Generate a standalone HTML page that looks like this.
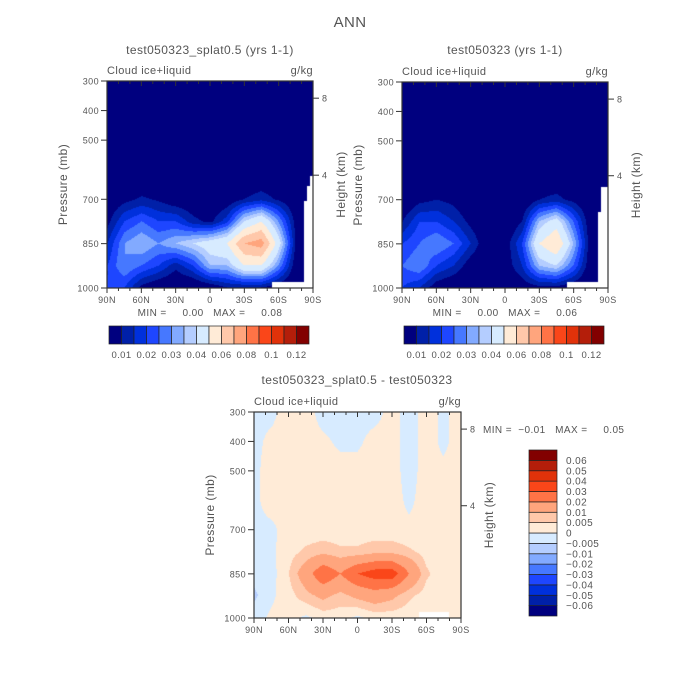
<!DOCTYPE html>
<html><head><meta charset="utf-8"><style>
body{margin:0;background:#fff;width:700px;height:700px;overflow:hidden;position:relative;font-family:"Liberation Sans",sans-serif;color:#555}
canvas{position:absolute}
svg{position:absolute;left:0;top:0}
text{letter-spacing:0.4px}
</style></head><body>
<canvas id="c1" width="206" height="207" style="left:107px;top:81px"></canvas>
<canvas id="c2" width="206" height="206" style="left:402px;top:82px"></canvas>
<canvas id="c3" width="207" height="206" style="left:254px;top:412px"></canvas>
<svg id="ov" width="700" height="700" font-family="Liberation Sans, sans-serif" fill="#555"></svg>
<script>
// data grids: columns = latitudes 90N..90S step 15, rows = pressure levels
const lats = [90,75,60,45,30,15,0,-15,-30,-45,-60,-75,-90];
const plevs = [300,400,500,600,700,775,850,925,1000];
const latLabels = ["90N","60N","30N","0","30S","60S","90S"];
const pLabels = [300,400,500,700,850,1000];
const hLabels = [8,4];
const levelsAbs = [0.01,0.015,0.02,0.025,0.03,0.035,0.04,0.05,0.06,0.07,0.08,0.09,0.1,0.11,0.12];
const cbLabelsAbs = ["0.01","0.02","0.03","0.04","0.06","0.08","0.1","0.12"];
const levelsDiff = [-0.06,-0.05,-0.04,-0.03,-0.02,-0.01,-0.005,0,0.005,0.01,0.02,0.03,0.04,0.05,0.06];
const cbLabelsDiff = ["-0.06","-0.05","-0.04","-0.03","-0.02","-0.01","-0.005","0","0.005","0.01","0.02","0.03","0.04","0.05","0.06"];
const palette = ["#00007f","#0020a8","#0030dc","#1e46ff","#4678ff","#82aaff","#b4cdff","#d7ebff","#ffebd7","#ffc8aa","#ffa57d","#ff7346","#fa4619","#e1320a","#b41e0a","#820000"];
const dataA = [
[0.002,0.002,0.002,0.002,0.002,0.002,0.002,0.002,0.002,0.002,0.002,0.002,0.002],
[0.002,0.002,0.002,0.002,0.002,0.002,0.002,0.002,0.002,0.002,0.002,0.002,0.002],
[0.002,0.002,0.002,0.002,0.002,0.002,0.002,0.002,0.002,0.002,0.002,0.002,0.002],
[0.002,0.002,0.002,0.002,0.002,0.002,0.002,0.002,0.002,0.002,0.002,0.002,0.002],
[0.004,0.008,0.011,0.009,0.005,0.004,0.004,0.005,0.01,0.013,0.009,0.004,0.002],
[0.008,0.02,0.025,0.02,0.02,0.012,0.008,0.018,0.04,0.05,0.03,0.008,0.002],
[0.015,0.03,0.035,0.03,0.035,0.04,0.045,0.05,0.07,0.075,0.045,0.01,0.002],
[0.02,0.03,0.025,0.02,0.012,0.02,0.035,0.035,0.05,0.05,0.03,0.006,0.002],
[0.02,0.02,0.008,0.004,0.002,0.002,0.005,0.01,0.01,0.01,0.005,0.002,0.002]];
const dataB = [
[0.002,0.002,0.002,0.002,0.002,0.002,0.002,0.002,0.002,0.002,0.002,0.002,0.002],
[0.002,0.002,0.002,0.002,0.002,0.002,0.002,0.002,0.002,0.002,0.002,0.002,0.002],
[0.002,0.002,0.002,0.002,0.002,0.002,0.002,0.002,0.002,0.002,0.002,0.002,0.002],
[0.002,0.002,0.002,0.002,0.002,0.002,0.002,0.002,0.002,0.002,0.002,0.002,0.002],
[0.003,0.008,0.01,0.008,0.003,0.002,0.002,0.003,0.01,0.012,0.008,0.003,0.002],
[0.01,0.02,0.02,0.015,0.008,0.003,0.003,0.01,0.035,0.045,0.025,0.005,0.002],
[0.02,0.025,0.03,0.025,0.015,0.004,0.006,0.02,0.05,0.06,0.035,0.006,0.002],
[0.025,0.03,0.02,0.015,0.006,0.003,0.006,0.015,0.035,0.04,0.025,0.005,0.002],
[0.02,0.015,0.006,0.003,0.002,0.002,0.003,0.006,0.008,0.008,0.005,0.002,0.002]];
const dataD = [
[-0.001,-0.001,0.002,0.002,-0.002,-0.002,-0.002,-0.002,0.002,-0.002,0.002,-0.001,0.002],
[-0.001,0.001,0.002,0.002,0.001,-0.001,-0.001,0.002,0.002,-0.002,0.002,-0.001,0.002],
[-0.001,0.002,0.002,0.002,0.002,0.002,0.002,0.002,0.002,-0.002,0.002,0.001,0.002],
[-0.001,0.002,0.002,0.002,0.002,0.002,0.002,0.002,0.002,-0.001,0.002,0.002,0.001],
[-0.001,-0.001,0.002,0.002,0.002,0.002,0.002,0.002,0.002,0.001,0.002,0.002,0.002],
[-0.002,-0.001,0.003,0.006,0.008,0.006,0.006,0.008,0.008,0.006,0.003,0.002,0.002],
[-0.003,-0.002,0.005,0.015,0.028,0.02,0.03,0.035,0.036,0.02,0.006,0.002,0.002],
[-0.006,-0.001,0.003,0.008,0.012,0.008,0.012,0.015,0.012,0.006,0.003,0.002,0.002],
[-0.002,0.001,0.002,-0.001,0.002,0.002,-0.001,0.002,0.002,0.002,0.002,0.001,0.002]];

function hex(c){return [parseInt(c.substr(1,2),16),parseInt(c.substr(3,2),16),parseInt(c.substr(5,2),16)];}
const pal = palette.map(hex);
function sample(grid,lat,p){
  let fx=(90-lat)/15; let i=Math.min(11,Math.floor(fx)); let tx=fx-i;
  let j=0; while(j<plevs.length-2 && p>plevs[j+1]) j++;
  let ty=(p-plevs[j])/(plevs[j+1]-plevs[j]);
  const a=grid[j][i],b=grid[j][i+1],c=grid[j+1][i],d=grid[j+1][i+1];
  return (a*(1-tx)+b*tx)*(1-ty)+(c*(1-tx)+d*tx)*ty;
}
function fill(id,grid,levels,mask){
  const cv=document.getElementById(id),ctx=cv.getContext('2d');
  const W=cv.width,H=cv.height,img=ctx.createImageData(W,H);
  for(let y=0;y<H;y++)for(let x=0;x<W;x++){
    const lat=90-180*x/(W-1), p=300+700*y/(H-1);
    const v=sample(grid,lat,p); let k=0; while(k<levels.length&&v>=levels[k])k++;
    const c=pal[k],o=(y*W+x)*4; img.data[o]=c[0];img.data[o+1]=c[1];img.data[o+2]=c[2];img.data[o+3]=255;
  }
  ctx.putImageData(img,0,0);
  ctx.fillStyle="#fff";
  mask.forEach(r=>ctx.fillRect(r[0],r[1],r[2],r[3]));
}
fill('c1',dataA,levelsAbs,[[165,201,41,6],[200,105,6,102],[197,120,9,87],[203,95,3,20]]);
fill('c2',dataB,levelsAbs,[[165,200,41,6],[199,105,7,101],[196,130,10,76]]);
fill('c3',dataD,levelsDiff,[[165,200,30,6]]);

const NS="http://www.w3.org/2000/svg", ov=document.getElementById('ov');
function el(tag,attrs,txt){const e=document.createElementNS(NS,tag);for(const k in attrs)e.setAttribute(k,attrs[k]);if(txt!==undefined)e.textContent=txt;ov.appendChild(e);return e;}
function txt(x,y,s,size,anchor,name,rot){
  const a={x:x,y:y,'font-size':size,'text-anchor':anchor||'middle'};
  if(rot)a.transform='rotate(-90 '+x+' '+y+')';
  const t=el('text',a,s);
  
  
  return t;
}
function axes(x0,y0,w,h,pre){
  const g=el('rect',{x:x0,y:y0,width:w,height:h,fill:'none',stroke:'#333','stroke-width':1.2});
  
  
  const xs=lat=>x0+w*(90-lat)/180, ys=p=>y0+h*(p-300)/700;
  for(let l=90;l>=-90;l-=10){
    const X=xs(l), major=l%30===0;
    el('line',{x1:X,x2:X,y1:y0,y2:y0+(major?5:3),stroke:'#333'});
    el('line',{x1:X,x2:X,y1:y0+h,y2:y0+h+(major?5:3),stroke:'#333'});
  }
  latLabels.forEach((s,i)=>txt(xs(90-30*i),y0+h+15,s,9,'middle',pre+'-x-label'));
  pLabels.forEach(p=>{el('line',{x1:x0-6,x2:x0,y1:ys(p),y2:ys(p),stroke:'#333'});txt(x0-8,ys(p)+3.5,String(p),9,'end',pre+'-y-label');});
  [[8,y0+h*0.083],[4,y0+h*0.455]].forEach(h2=>{el('line',{x1:x0+w,x2:x0+w+6,y1:h2[1],y2:h2[1],stroke:'#333'});txt(x0+w+9,h2[1]+3.5,String(h2[0]),9,'start',pre+'-height-label');});
  txt(x0-40,y0+h/2,'Pressure (mb)',12,'middle',pre+'-y-title',true);
  txt(x0+w+32,y0+h/2,'Height (km)',12,'middle',pre+'-height-title',true);
  txt(x0,y0-7,'Cloud ice+liquid',11,'start',pre+'-variable');
  txt(x0+w,y0-7,'g/kg',11,'end',pre+'-units');
}
const sp='\u00a0';
txt(350,27,'ANN',15,'middle','main-title');
txt(210,54,'test050323_splat0.5 (yrs 1-1)',12,'middle','panel1-title');
txt(505,54,'test050323 (yrs 1-1)',12,'middle','panel2-title');
txt(357,384,'test050323_splat0.5 - test050323',12,'middle','diff-title');
axes(107,81,206,207,'panel1');
axes(402,82,206,206,'panel2');
axes(254,412,207,206,'diff');
txt(210,316,'MIN ='+sp.repeat(5)+'0.00'+sp.repeat(3)+'MAX ='+sp.repeat(5)+'0.08',10,'middle','panel1-minmax');
txt(505,316,'MIN ='+sp.repeat(5)+'0.00'+sp.repeat(3)+'MAX ='+sp.repeat(5)+'0.06',10,'middle','panel2-minmax');
txt(483,433,'MIN ='+sp.repeat(2)+'\u22120.01'+sp.repeat(3)+'MAX ='+sp.repeat(5)+'0.05',10,'start','diff-minmax');
function hbar(x0,pre){
  palette.forEach((c,i)=>{const r=el('rect',{x:x0+i*12.5,y:326,width:12.5,height:18,fill:c,stroke:'#222','stroke-width':0.7});
    
    });
  cbLabelsAbs.forEach((s,i)=>txt(x0+12.5*(2*i+1),358,s,9.5,'middle',pre+'-colorbar-label'));
}
hbar(109,'panel1');hbar(404,'panel2');
const bh=166/16;
palette.forEach((c,i)=>{const r=el('rect',{x:529,y:450+(15-i)*bh,width:28,height:bh,fill:c,stroke:'#222','stroke-width':0.7});
  
  });
cbLabelsDiff.forEach((s,i)=>txt(566,450+(15-i)*bh+3.5,s.replace('-','\u2212'),10,'start','diff-colorbar-label'));
</script>
</body></html>
